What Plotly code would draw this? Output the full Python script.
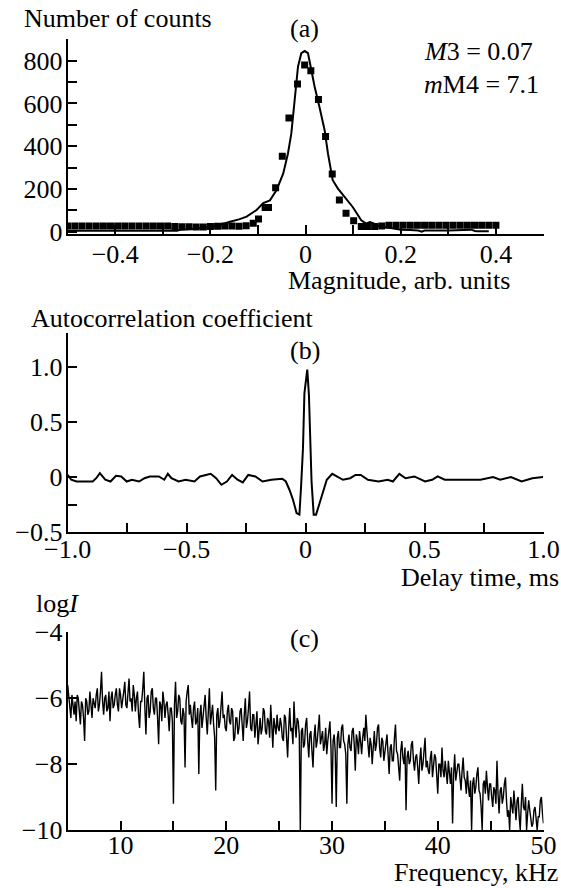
import plotly.graph_objects as go

# ---------------- (a) histogram of magnitudes ----------------
count_x = [-0.5, -0.485, -0.47, -0.455, -0.44, -0.425, -0.41, -0.395, -0.38, -0.365,
           -0.35, -0.335, -0.32, -0.305, -0.29, -0.275, -0.26, -0.245, -0.23, -0.215,
           -0.2, -0.185, -0.17, -0.155, -0.14, -0.125, -0.11, -0.099, -0.085, -0.078,
           -0.063, -0.049, -0.035, -0.017, -0.002, 0.011, 0.027, 0.042, 0.056, 0.071,
           0.085, 0.101, 0.117, 0.13, 0.145, 0.16, 0.175, 0.19, 0.205, 0.22,
           0.235, 0.25, 0.265, 0.28, 0.295, 0.31, 0.325, 0.34, 0.355, 0.37,
           0.385, 0.4]
count_y = [27, 27, 27, 27, 27, 27, 27, 27, 27, 27,
           27, 27, 27, 27, 27, 25, 24, 24, 22, 22,
           25, 26, 27, 27, 26, 28, 40, 60, 113, 113,
           206, 353, 532, 691, 780, 753, 618, 446, 270, 149,
           87, 51, 25, 25, 25, 27, 30, 30, 30, 30,
           30, 30, 30, 30, 30, 30, 30, 30, 30, 30,
           30, 30]

fit_x = [-0.5, -0.35, -0.27, -0.262, -0.24, -0.2, -0.18, -0.159, -0.14, -0.124,
         -0.103, -0.089, -0.075, -0.061, -0.047, -0.037, -0.03, -0.023, -0.016, -0.009,
         -0.002, 0.005, 0.012, 0.019, 0.029, 0.04, 0.047, 0.057, 0.068, 0.082,
         0.099, 0.117, 0.127, 0.135, 0.142, 0.152, 0.165, 0.185, 0.2, 0.22,
         0.237, 0.244, 0.25, 0.3, 0.34, 0.348, 0.356, 0.362, 0.385]
fit_y = [5, 5, 5, 10, 13, 22, 32, 47, 58, 71,
         102, 134, 147, 195, 273, 367, 460, 616, 772, 835,
         845, 835, 756, 678, 585, 475, 366, 241, 202, 163,
         116, 54, 38, 45, 40, 28, 24, 15, 10, 8,
         6, 0, 6, 6, 8, 10, 4, 2, 2]

# ---------------- (b) autocorrelation ----------------
lag_ms = [-1.0, -0.985, -0.963, -0.895, -0.88, -0.865, -0.842, -0.82, -0.797, -0.775,
          -0.752, -0.73, -0.7, -0.677, -0.655, -0.617, -0.594, -0.579, -0.564, -0.534,
          -0.504, -0.467, -0.444, -0.399, -0.376, -0.354, -0.331, -0.309, -0.286, -0.264,
          -0.241, -0.211, -0.181, -0.144, -0.098, -0.083, -0.068, -0.053, -0.038, -0.026,
          -0.019, -0.011, -0.005, 0.002, 0.007, 0.014, 0.019, 0.025, 0.034, 0.044,
          0.059, 0.074, 0.089, 0.112, 0.134, 0.157, 0.187, 0.21, 0.232, 0.262,
          0.307, 0.345, 0.367, 0.394, 0.42, 0.457, 0.502, 0.532, 0.555, 0.585,
          0.63, 0.683, 0.735, 0.788, 0.818, 0.863, 0.908, 0.953, 0.998]
acf = [0.02, -0.024, -0.04, -0.04, -0.01, 0.036, -0.024, -0.04, 0.012, 0.006,
       -0.04, -0.024, -0.04, -0.01, 0.006, 0.006, -0.024, 0.03, -0.01, -0.04,
       -0.024, -0.04, 0.006, 0.03, -0.01, -0.07, -0.04, 0.02, -0.024, -0.048,
       0.02, 0.006, -0.04, -0.024, -0.015, -0.04, -0.115, -0.206, -0.327, -0.342,
       -0.085, 0.264, 0.764, 0.87, 0.98, 0.748, 0.4, -0.04, -0.342, -0.342,
       -0.236, -0.13, -0.024, 0.03, 0.006, -0.024, -0.01, 0.02, 0.02, -0.024,
       -0.04, -0.024, -0.04, 0.03, -0.01, 0.006, -0.04, -0.024, 0.006, -0.024,
       -0.024, -0.024, -0.024, 0.0, -0.024, 0.0, -0.04, -0.01, 0.0]

# ---------------- (c) power spectrum, 0.1 kHz bins from 5 to 50 kHz ----------------
FREQ_START_KHZ = 5.0
FREQ_STEP_KHZ = 0.1
log_i = [
    -5.6, -6.0, -6.3, -6.6, -5.9, -6.2, -6.5, -6.1, -6.7, -5.9,   # 5
    -6.0, -6.4, -6.8, -6.1, -6.2, -6.6, -7.3, -6.0, -6.1, -6.5,   # 6
    -6.4, -5.8, -6.3, -6.6, -6.0, -6.2, -6.3, -5.9, -5.7, -6.4,   # 7
    -6.2, -5.8, -5.2, -6.1, -6.5, -6.0, -5.9, -6.4, -6.3, -5.8,   # 8
    -6.7, -6.0, -5.8, -6.3, -6.2, -5.9, -5.7, -6.2, -6.4, -5.7,   # 9
    -5.9, -6.3, -6.1, -5.8, -5.5, -6.2, -6.3, -5.9, -5.4, -6.1,   # 10
    -6.0, -6.4, -5.6, -5.9, -6.4, -6.0, -5.8, -6.5, -6.9, -6.1,   # 11
    -6.1, -5.7, -5.2, -6.3, -7.1, -6.0, -5.9, -6.6, -6.4, -5.8,   # 12
    -5.7, -6.3, -6.5, -6.0, -6.0, -6.6, -7.4, -6.1, -6.2, -6.7,   # 13
    -5.8, -6.1, -6.6, -6.2, -6.1, -6.5, -7.0, -6.3, -6.3, -6.7,   # 14
    -9.2, -6.2, -5.5, -6.6, -6.4, -5.9, -6.0, -6.7, -6.8, -6.3,   # 15
    -6.5, -8.1, -6.1, -5.8, -5.6, -6.5, -6.2, -6.6, -6.9, -6.3,   # 16
    -6.1, -6.8, -6.7, -6.3, -8.3, -6.5, -6.2, -6.9, -6.6, -6.1,   # 17
    -5.9, -6.6, -7.1, -6.4, -5.7, -6.8, -6.4, -6.2, -6.8, -7.2,   # 18
    -8.8, -6.5, -6.3, -6.9, -6.7, -6.2, -5.8, -6.6, -6.5, -6.9,   # 19
    -7.0, -6.4, -6.2, -6.7, -6.8, -6.3, -6.4, -7.3, -7.2, -6.6,   # 20
    -6.6, -7.1, -6.9, -6.4, -6.3, -6.8, -7.3, -6.5, -6.0, -6.9,   # 21
    -6.7, -6.3, -5.8, -6.9, -7.0, -6.5, -6.5, -7.2, -6.8, -6.4,   # 22
    -7.4, -6.8, -6.6, -7.1, -6.9, -6.3, -6.4, -7.0, -7.1, -6.6,   # 23
    -6.7, -7.2, -6.2, -6.8, -7.5, -6.6, -6.8, -7.1, -6.5, -6.9,   # 24
    -7.0, -6.6, -6.8, -7.2, -7.3, -6.5, -6.6, -7.1, -7.8, -6.9,   # 25
    -6.3, -7.0, -6.9, -7.4, -6.1, -6.8, -7.2, -6.6, -6.7, -7.1,   # 26
    -10.0, -7.0, -6.9, -7.5, -7.4, -6.8, -6.6, -7.3, -7.8, -7.1,  # 27
    -7.0, -7.6, -8.1, -7.2, -6.8, -7.5, -7.3, -6.9, -6.5, -7.4,   # 28
    -7.2, -7.0, -7.6, -7.4, -6.9, -7.7, -7.3, -7.0, -6.7, -7.5,   # 29
    -9.2, -7.3, -7.1, -7.6, -9.3, -7.2, -7.0, -7.5, -7.5, -6.9,   # 30
    -6.8, -7.3, -7.4, -7.7, -9.2, -7.4, -7.1, -7.5, -7.6, -7.0,   # 31
    -6.9, -7.4, -8.2, -7.1, -7.3, -7.7, -7.0, -7.3, -7.7, -7.2,   # 32
    -6.9, -7.3, -6.5, -7.0, -7.5, -7.8, -7.2, -7.4, -8.0, -7.3,   # 33
    -7.0, -7.6, -7.4, -6.9, -6.8, -7.5, -7.8, -7.2, -7.3, -7.9,   # 34
    -7.6, -7.3, -7.1, -7.7, -8.3, -7.5, -7.4, -7.9, -7.9, -7.2,   # 35
    -6.8, -7.6, -7.7, -8.1, -8.5, -7.6, -7.3, -7.8, -8.0, -7.5,   # 36
    -9.4, -7.8, -7.6, -8.0, -7.9, -7.4, -7.3, -7.9, -8.2, -7.8,   # 37
    -7.7, -8.1, -8.6, -7.9, -7.5, -8.2, -8.0, -7.6, -7.2, -8.1,   # 38
    -7.9, -8.2, -8.3, -7.8, -7.6, -8.4, -8.1, -7.7, -7.8, -8.3,   # 39
    -8.9, -8.0, -8.0, -8.4, -7.5, -8.2, -8.4, -7.9, -8.2, -8.6,   # 40
    -7.9, -8.4, -8.6, -8.1, -9.8, -8.3, -7.7, -8.5, -8.3, -8.0,   # 41
    -8.0, -8.6, -8.8, -8.2, -7.8, -8.4, -8.5, -8.9, -8.2, -8.7,   # 42
    -9.0, -8.5, -10.0, -8.6, -8.4, -8.9, -8.7, -8.3, -8.1, -8.8,  # 43
    -8.9, -9.3, -10.0, -8.6, -8.5, -8.9, -8.2, -8.7, -9.1, -8.6,  # 44
    -8.6, -9.0, -9.3, -8.7, -8.8, -9.2, -7.9, -8.9, -9.5, -8.8,   # 45
    -8.7, -9.2, -9.0, -8.6, -8.4, -9.1, -9.6, -9.4, -10.0, -9.0,  # 46
    -9.2, -9.5, -8.8, -9.3, -9.7, -9.1, -9.0, -9.6, -10.0, -9.2,  # 47
    -8.6, -9.3, -9.4, -9.0, -10.0, -9.5, -9.1, -9.4, -9.6, -9.9,  # 48
    -9.8, -9.4, -9.3, -9.7, -10.0, -9.6, -9.6, -9.1, -9.0, -9.5,  # 49
    -9.8,                                                         # 50
]
freq_khz = [round(FREQ_START_KHZ + FREQ_STEP_KHZ * i, 2) for i in range(len(log_i))]

# ---------------- layout helpers ----------------
W, H = 561, 888
FONT = "Liberation Serif, Times New Roman, serif"
INK = "black"


def fx(p):
    return p / W


def fy(p):
    return 1 - p / H


X_DOMAIN = [fx(67.7), fx(543.5)]


def axis(**kw):
    base = dict(
        showline=True, linecolor=INK, linewidth=2,
        ticks="inside", ticklen=9, tickwidth=1.5, tickcolor=INK,
        showgrid=False, zeroline=False, tickmode="array",
        tickfont=dict(family=FONT, size=26, color=INK),
        fixedrange=True, automargin=False,
    )
    base.update(kw)
    return base


fig = go.Figure()
fig.add_trace(go.Scatter(x=fit_x, y=fit_y, mode="lines",
                         line=dict(color=INK, width=2), xaxis="x", yaxis="y"))
fig.add_trace(go.Scatter(x=count_x, y=count_y, mode="markers",
                         marker=dict(symbol="square", size=7, color=INK, line=dict(width=0)),
                         xaxis="x", yaxis="y"))
fig.add_trace(go.Scatter(x=lag_ms, y=acf, mode="lines",
                         line=dict(color=INK, width=2), xaxis="x2", yaxis="y2"))
fig.add_trace(go.Scatter(x=freq_khz, y=log_i, mode="lines",
                         line=dict(color=INK, width=1.4), xaxis="x3", yaxis="y3"))

fig.update_layout(
    template="none",
    width=W, height=H, autosize=False,
    margin=dict(l=0, r=0, t=0, b=0, pad=0),
    paper_bgcolor="white", plot_bgcolor="white",
    showlegend=False,
    font=dict(family=FONT, size=26, color=INK),
    xaxis=axis(domain=X_DOMAIN, anchor="y", range=[-0.5, 0.5], ticklabelstandoff=-4,
               tickvals=[-0.4, -0.3, -0.2, -0.1, 0, 0.1, 0.2, 0.3, 0.4, 0.5],
               ticktext=["−0.4", "", "−0.2", "", "0", "", "0.2", "", "0.4", ""]),
    yaxis=axis(domain=[fy(233.7), fy(39.3)], anchor="x", range=[-9, 900], ticklabelstandoff=-2,
               tickvals=[0, 100, 200, 300, 400, 500, 600, 700, 800, 900],
               ticktext=["0", "", "200", "", "400", "", "600", "", "800", ""]),
    xaxis2=axis(domain=X_DOMAIN, anchor="y2", range=[-1, 1], ticklabelstandoff=-7,
                tickvals=[-1, -0.75, -0.5, -0.25, 0, 0.25, 0.5, 0.75, 1.0],
                ticktext=["−1.0", "", "−0.5", "", "0", "", "0.5", "", "1.0"]),
    yaxis2=axis(domain=[fy(532), fy(333.3)], anchor="x2", range=[-0.5, 1.31], ticklabelstandoff=-2,
                tickvals=[-0.5, -0.25, 0, 0.5, 1.0],
                ticktext=["−0.5", "", "0", "0.5", "1.0"]),
    xaxis3=axis(domain=X_DOMAIN, anchor="y3", range=[5, 50], ticklabelstandoff=-9,
                tickvals=[10, 15, 20, 25, 30, 35, 40, 45, 50],
                ticktext=["10", "", "20", "", "30", "", "40", "", "50"]),
    yaxis3=axis(domain=[fy(830), fy(632.3)], anchor="x3", range=[-10, -4], ticklabelstandoff=-2,
                tickvals=[-10, -8, -6, -4],
                ticktext=["−10", "−8", "−6", "−4"]),
)


def label(text, x, y, xanchor="left"):
    fig.add_annotation(text=text, x=fx(x), y=fy(y), xref="paper", yref="paper",
                       xanchor=xanchor, yanchor="middle", showarrow=False,
                       borderpad=0, font=dict(family=FONT, size=26, color=INK))


label("Number of counts", 23, 18.4)
label("(a)", 304.7, 28, "center")
label("<i>M</i>3 = 0.07", 423.3, 51.7)
label("<i>m</i>M4 = 7.1", 423.3, 85)
label("Magnitude, arb. units", 511, 281, "right")

label("Autocorrelation coefficient", 30, 318)
label("(b)", 304.7, 350, "center")
label("Delay time, ms", 560, 577, "right")

label("log<i>I</i>", 35, 603.7)
label("(c)", 304.7, 638, "center")
label("Frequency, kHz", 559, 872.5, "right")

fig.write_html("out.html")
